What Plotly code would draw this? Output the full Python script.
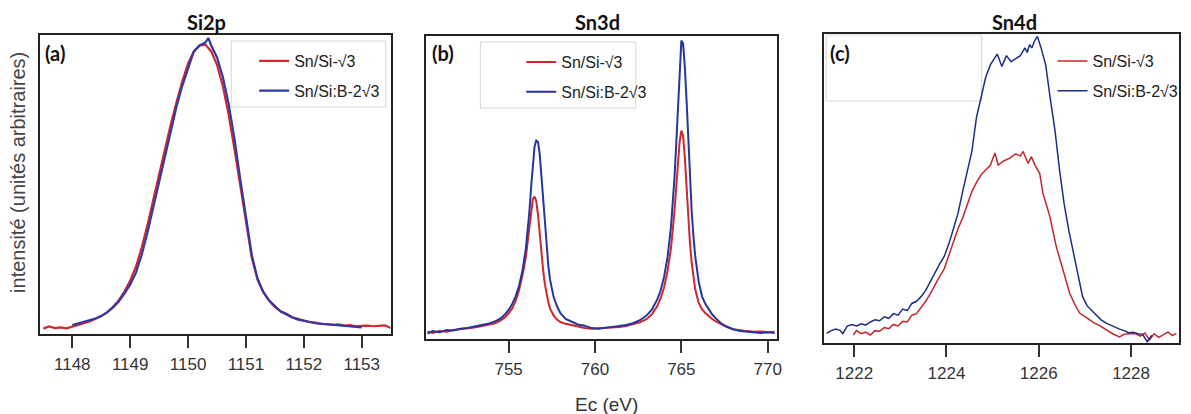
import plotly.graph_objects as go

W, H = 1191, 414

# ---------------- data ----------------
# Panel (a) Si2p
si_x_red = [1147.5, 1147.6, 1147.7, 1147.8, 1147.9, 1148.0, 1148.1, 1148.2, 1148.3, 1148.4,
            1148.5, 1148.6, 1148.7, 1148.8, 1148.9, 1149.0, 1149.1, 1149.2, 1149.3, 1149.4,
            1149.5, 1149.6, 1149.7, 1149.8, 1149.9, 1150.0, 1150.1, 1150.2, 1150.3, 1150.4,
            1150.5, 1150.6, 1150.7, 1150.8, 1150.9, 1151.0, 1151.1, 1151.2, 1151.3, 1151.4,
            1151.5, 1151.6, 1151.7, 1151.8, 1151.9, 1152.0, 1152.1, 1152.2, 1152.3, 1152.4,
            1152.5, 1152.6, 1152.7, 1152.8, 1152.9, 1153.0, 1153.1, 1153.2, 1153.3, 1153.4, 1153.5]
si_y_red = [0.018, 0.025, 0.020, 0.022, 0.019, 0.024, 0.030, 0.036, 0.042, 0.050,
            0.060, 0.072, 0.090, 0.112, 0.142, 0.178, 0.225, 0.290, 0.365, 0.450,
            0.535, 0.615, 0.700, 0.775, 0.845, 0.905, 0.945, 0.965, 0.968, 0.945,
            0.900, 0.830, 0.735, 0.620, 0.495, 0.365, 0.255, 0.182, 0.140, 0.112,
            0.090, 0.076, 0.068, 0.056, 0.050, 0.044, 0.040, 0.038, 0.034, 0.033,
            0.031, 0.032, 0.028, 0.030, 0.026, 0.027, 0.028, 0.026, 0.027, 0.029, 0.020]
si_x_blue = [1148.0, 1148.1, 1148.2, 1148.3, 1148.4, 1148.5, 1148.6, 1148.7, 1148.8, 1148.9,
             1149.0, 1149.1, 1149.2, 1149.3, 1149.4, 1149.5, 1149.6, 1149.7, 1149.8, 1149.9,
             1150.0, 1150.1, 1150.2, 1150.3, 1150.35, 1150.4, 1150.5, 1150.6, 1150.7, 1150.8,
             1150.9, 1151.0, 1151.1, 1151.2, 1151.3, 1151.4, 1151.5, 1151.6, 1151.7, 1151.8,
             1151.9, 1152.0, 1152.1, 1152.2, 1152.3, 1152.4, 1152.5, 1152.6, 1152.7, 1152.8,
             1152.9, 1153.0]
si_y_blue = [0.030, 0.035, 0.040, 0.045, 0.052, 0.060, 0.072, 0.088, 0.108, 0.135,
             0.165, 0.205, 0.265, 0.340, 0.425, 0.505, 0.590, 0.685, 0.760, 0.830,
             0.890, 0.945, 0.965, 0.975, 0.990, 0.965, 0.925, 0.860, 0.770, 0.655,
             0.520, 0.385, 0.265, 0.185, 0.140, 0.112, 0.092, 0.075, 0.065, 0.055,
             0.048, 0.043, 0.040, 0.036, 0.034, 0.032, 0.030, 0.029, 0.027, 0.025,
             0.024, 0.022]

# Panel (b) Sn3d
sn3_x = [750.3, 750.6, 751.0, 751.4, 751.8, 752.2, 752.6, 753.0, 753.4, 753.8,
         754.2, 754.5, 754.8, 755.0, 755.2, 755.4, 755.6, 755.8, 756.0, 756.1,
         756.2, 756.3, 756.4, 756.5, 756.6, 756.7, 756.8, 756.9, 757.0, 757.1,
         757.2, 757.3, 757.4, 757.6, 757.8, 758.0, 758.3, 758.6, 759.0, 759.4,
         759.8, 760.2, 760.6, 761.0, 761.4, 761.8, 762.2, 762.6, 763.0, 763.3,
         763.6, 763.8, 764.0, 764.2, 764.4, 764.5, 764.6, 764.7, 764.8, 764.9,
         765.0, 765.1, 765.2, 765.3, 765.4, 765.5, 765.6, 765.7, 765.8, 766.0,
         766.2, 766.4, 766.6, 766.8, 767.0, 767.3, 767.6, 768.0, 768.4, 768.8,
         769.2, 769.6, 770.0, 770.4]
sn3_y_red = [0.025, 0.020, 0.026, 0.024, 0.030, 0.032, 0.036, 0.038, 0.042, 0.046,
             0.052, 0.060, 0.072, 0.085, 0.100, 0.125, 0.160, 0.210, 0.270, 0.320,
             0.375, 0.430, 0.462, 0.470, 0.455, 0.410, 0.345, 0.280, 0.225, 0.180,
             0.145, 0.120, 0.100, 0.078, 0.064, 0.056, 0.050, 0.046, 0.040, 0.036,
             0.034, 0.035, 0.036, 0.038, 0.040, 0.043, 0.048, 0.055, 0.066, 0.082,
             0.108, 0.135, 0.170, 0.225, 0.300, 0.355, 0.420, 0.500, 0.585, 0.650,
             0.688, 0.670, 0.600, 0.500, 0.400, 0.315, 0.250, 0.200, 0.165, 0.120,
             0.098, 0.085, 0.074, 0.065, 0.058, 0.048, 0.040, 0.032, 0.028, 0.026,
             0.024, 0.025, 0.022, 0.024]
sn3_y_blue = [0.018, 0.026, 0.022, 0.030, 0.028, 0.034, 0.036, 0.040, 0.046, 0.050,
              0.058, 0.066, 0.082, 0.096, 0.115, 0.140, 0.175, 0.225, 0.300, 0.350,
              0.420, 0.500, 0.580, 0.635, 0.655, 0.650, 0.610, 0.540, 0.450, 0.370,
              0.300, 0.240, 0.195, 0.140, 0.108, 0.085, 0.066, 0.058, 0.048, 0.044,
              0.036, 0.034, 0.038, 0.040, 0.043, 0.046, 0.052, 0.062, 0.078, 0.098,
              0.130, 0.160, 0.205, 0.270, 0.370, 0.440, 0.530, 0.640, 0.760, 0.880,
              0.985, 0.975, 0.900, 0.790, 0.650, 0.520, 0.420, 0.340, 0.275, 0.190,
              0.140, 0.115, 0.095, 0.080, 0.068, 0.052, 0.042, 0.032, 0.026, 0.024,
              0.022, 0.020, 0.022, 0.020]

# Panel (c) Sn4d
sn4_x_red = [1221.98, 1222.05, 1222.15, 1222.25, 1222.35, 1222.45, 1222.55, 1222.65, 1222.75, 1222.85,
             1222.95, 1223.05, 1223.15, 1223.25, 1223.35, 1223.45, 1223.55, 1223.65, 1223.75, 1223.85,
             1223.95, 1224.05, 1224.15, 1224.25, 1224.35, 1224.45, 1224.55, 1224.65, 1224.75, 1224.85,
             1224.95, 1225.05, 1225.12, 1225.25, 1225.37, 1225.50, 1225.60, 1225.66, 1225.72, 1225.77,
             1225.84, 1225.92, 1226.02, 1226.09, 1226.17, 1226.24, 1226.31, 1226.38, 1226.46, 1226.53,
             1226.60, 1226.67, 1226.78, 1226.89, 1227.00, 1227.10, 1227.20, 1227.30, 1227.40, 1227.50,
             1227.60, 1227.75, 1227.85, 1227.97, 1228.10, 1228.20, 1228.30, 1228.40, 1228.50, 1228.60,
             1228.69, 1228.80, 1228.90, 1228.98]
sn4_y_red = [0.026, 0.040, 0.030, 0.035, 0.026, 0.040, 0.038, 0.050, 0.046, 0.060,
             0.055, 0.070, 0.068, 0.090, 0.095, 0.115, 0.135, 0.160, 0.190, 0.215,
             0.240, 0.285, 0.325, 0.370, 0.405, 0.450, 0.490, 0.520, 0.545, 0.560,
             0.575, 0.615, 0.576, 0.590, 0.598, 0.612, 0.605, 0.620, 0.600, 0.581,
             0.603, 0.575, 0.549, 0.484, 0.445, 0.409, 0.360, 0.312, 0.270, 0.236,
             0.195, 0.161, 0.125, 0.096, 0.085, 0.074, 0.065, 0.058, 0.048, 0.040,
             0.030, 0.020, 0.028, 0.031, 0.030, 0.022, 0.032, 0.010, 0.030, 0.018,
             0.026, 0.035, 0.024, 0.031]
sn4_x_blue = [1221.40, 1221.50, 1221.60, 1221.70, 1221.75, 1221.85, 1221.95, 1222.05, 1222.15, 1222.25,
              1222.35, 1222.45, 1222.55, 1222.65, 1222.75, 1222.85, 1222.95, 1223.05, 1223.15, 1223.25,
              1223.35, 1223.45, 1223.55, 1223.65, 1223.75, 1223.85, 1223.95, 1224.05, 1224.15, 1224.25,
              1224.35, 1224.45, 1224.55, 1224.65, 1224.75, 1224.85, 1224.95, 1225.05, 1225.10, 1225.20,
              1225.30, 1225.40, 1225.50, 1225.60, 1225.70, 1225.75, 1225.80, 1225.85, 1225.90, 1225.97,
              1226.05, 1226.15, 1226.25, 1226.35, 1226.45, 1226.55, 1226.65, 1226.75, 1226.85, 1226.95,
              1227.05, 1227.15, 1227.25, 1227.35, 1227.45, 1227.55, 1227.65, 1227.75, 1227.85, 1227.95,
              1228.05, 1228.15, 1228.25, 1228.35, 1228.45]
sn4_y_blue = [0.031, 0.040, 0.045, 0.040, 0.030, 0.055, 0.060, 0.055, 0.062, 0.058,
              0.068, 0.075, 0.072, 0.085, 0.080, 0.095, 0.090, 0.110, 0.105, 0.128,
              0.135, 0.150, 0.170, 0.200, 0.225, 0.255, 0.280, 0.320, 0.370, 0.420,
              0.490, 0.555, 0.620, 0.730, 0.790, 0.860, 0.900, 0.925, 0.935, 0.895,
              0.930, 0.910, 0.920, 0.930, 0.955, 0.940, 0.965, 0.955, 0.975, 0.992,
              0.955, 0.900, 0.790, 0.690, 0.560, 0.450, 0.365, 0.295, 0.215, 0.150,
              0.120, 0.105, 0.090, 0.075, 0.065, 0.058, 0.052, 0.045, 0.040, 0.033,
              0.035, 0.030, 0.028, 0.004, 0.025]

series_names = ["Sn/Si-√3", "Sn/Si:B-2√3"]
panel_titles = ["Si2p", "Sn3d", "Sn4d"]
panel_labels = ["(a)", "(b)", "(c)"]
x_ticks = [[1148, 1149, 1150, 1151, 1152, 1153], [755, 760, 765, 770], [1222, 1224, 1226, 1228]]
x_ranges = [[1147.44, 1153.5], [750.19, 770.56], [1221.35, 1229.04]]
x_title = "Ec (eV)"
y_title = "intensité (unités arbitraires)"

# ---------------- layout helpers (pixel boxes) ----------------
boxes = [(40, 392, 35, 334), (427, 780, 36, 339), (827, 1183, 34, 343)]  # left, right, top, bottom
def px(x): return x / W
def py(y): return 1 - y / H

RED = ["#d0262d", "#d0262d", "#c4262c"]
BLUE = ["#2f3aa8", "#24359e", "#1e2d8c"]
LW = [2.2, 2.0, 1.5]

data = [
    ((si_x_red, si_y_red), (si_x_blue, si_y_blue)),
    ((sn3_x, sn3_y_red), (sn3_x, sn3_y_blue)),
    ((sn4_x_red, sn4_y_red), (sn4_x_blue, sn4_y_blue)),
]

fig = go.Figure()
legends = ["legend", "legend2", "legend3"]
for i, ((xr, yr), (xb, yb)) in enumerate(data):
    xa = "x" if i == 0 else f"x{i+1}"
    ya = "y" if i == 0 else f"y{i+1}"
    fig.add_trace(go.Scatter(x=xr, y=yr, mode="lines", name=series_names[0],
                             line=dict(color=RED[i], width=LW[i]), xaxis=xa, yaxis=ya,
                             legend=legends[i], legendgroup=f"r{i}"))
    fig.add_trace(go.Scatter(x=xb, y=yb, mode="lines", name=series_names[1],
                             line=dict(color=BLUE[i], width=LW[i]), xaxis=xa, yaxis=ya,
                             legend=legends[i], legendgroup=f"b{i}"))

axis_common = dict(showline=True, linecolor="#222", linewidth=1.5, mirror=True,
                   showgrid=False, zeroline=False)
layout = dict(width=W, height=H, margin=dict(l=0, r=0, t=0, b=0),
              paper_bgcolor="white", plot_bgcolor="white", showlegend=True)
for i, (l, r, t, b) in enumerate(boxes):
    sfx = "" if i == 0 else str(i + 1)
    layout[f"xaxis{sfx}"] = dict(domain=[px(l), px(r)], range=x_ranges[i], tickvals=x_ticks[i],
                                 ticks="outside", ticklen=12, tickwidth=1.5, tickcolor="#333",
                                 ticklabelstandoff=2,
                                 tickfont=dict(family="Liberation Sans", size=17, color="#333"),
                                 anchor=f"y{sfx}", **axis_common)
    layout[f"yaxis{sfx}"] = dict(domain=[py(b), py(t)], range=[0, 1], showticklabels=False,
                                 ticks="", anchor=f"x{sfx}", **axis_common)

leg_pos = [(255, 44), (523, 45), (1056, 44)]
for i, (lx, ly) in enumerate(leg_pos):
    key = "legend" if i == 0 else f"legend{i+1}"
    layout[key] = dict(x=px(lx), y=py(ly), xanchor="left", yanchor="top",
                       bgcolor="rgba(0,0,0,0)", borderwidth=0, itemwidth=30,
                       tracegroupgap=6,
                       font=dict(family="Liberation Sans", size=16, color="#222"))
fig.update_layout(**layout)

# legend frames (a), (b) and the empty frame in (c)
frames = [(232, 387, 41, 107), (482, 638, 42, 108), (829, 985, 35, 101)]
for (l, r, t, b) in frames:
    fig.add_shape(type="rect", xref="paper", yref="paper", x0=px(l), x1=px(r), y0=py(b), y1=py(t),
                  line=dict(color="#d6d6d6", width=1), fillcolor="white", layer="below")

# titles and panel labels
title_x = [207, 600, 1018]
for i in range(3):
    fig.add_annotation(text=f"<b>{panel_titles[i]}</b>", x=px(title_x[i]), y=py(22), xref="paper", yref="paper",
                       showarrow=False, xanchor="center", yanchor="middle",
                       font=dict(family="Lato", size=20, color="#111"))
label_pos = [(43, 53), (431, 53), (831, 53)]
for i, (lx, ly) in enumerate(label_pos):
    fig.add_annotation(text=f"<b>{panel_labels[i]}</b>", x=px(lx), y=py(ly), xref="paper", yref="paper",
                       showarrow=False, xanchor="left", yanchor="middle",
                       font=dict(family="Lato", size=20, color="#111"))

fig.add_annotation(text=x_title, x=px(609), y=py(404), xref="paper", yref="paper", showarrow=False,
                   xanchor="center", yanchor="middle",
                   font=dict(family="Liberation Sans", size=19, color="#333"))
fig.add_annotation(text=y_title, x=px(18), y=py(172), xref="paper", yref="paper", showarrow=False,
                   xanchor="center", yanchor="middle", textangle=-90,
                   font=dict(family="Liberation Sans", size=20, color="#444"))

fig.write_html("out.html", config={"displayModeBar": False},
               post_script="document.body.style.margin='0px';document.body.style.overflow='hidden';")
